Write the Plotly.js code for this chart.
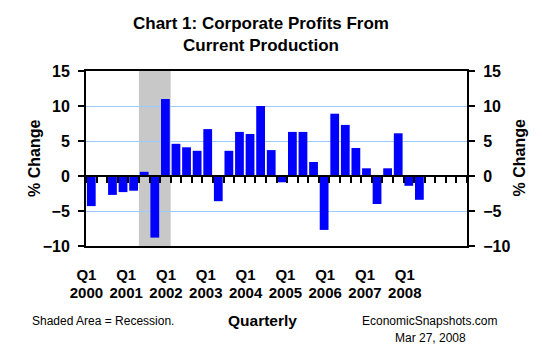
<!DOCTYPE html>
<html>
<head>
<meta charset="utf-8">
<script src="https://cdn.plot.ly/plotly-3.0.1.min.js"></script>
<style>html,body{margin:0;padding:0;background:#fff;}#chart{width:555px;height:360px;}</style>
</head>
<body>
<div id="chart"></div>
<script>
const quarters = [
  "2000Q1","2000Q2","2000Q3","2000Q4",
  "2001Q1","2001Q2","2001Q3","2001Q4",
  "2002Q1","2002Q2","2002Q3","2002Q4",
  "2003Q1","2003Q2","2003Q3","2003Q4",
  "2004Q1","2004Q2","2004Q3","2004Q4",
  "2005Q1","2005Q2","2005Q3","2005Q4",
  "2006Q1","2006Q2","2006Q3","2006Q4",
  "2007Q1","2007Q2","2007Q3","2007Q4",
  "2008Q1","2008Q2","2008Q3","2008Q4"
];
const pctChange = [
  -4.3, 0.0, -2.7, -2.3,
  -2.1, 0.6, -8.8, 11.0,
   4.6, 4.1, 3.6, 6.7,
  -3.6, 3.6, 6.3, 6.0,
  10.0, 3.7, -0.9, 6.3,
   6.3, 2.0, -7.7, 8.9,
   7.3, 4.0, 1.1, -4.0,
   1.1, 6.1, -1.4, -3.4,
  null, null, null, null
];
const recessionStart = "2001Q2";
const recessionEnd = "2001Q4";
const yearTickVals = [2000, 2001, 2002, 2003, 2004, 2005, 2006, 2007, 2008];
const quarterTickText = ["Q1","Q1","Q1","Q1","Q1","Q1","Q1","Q1","Q1"];
const yearTickText = ["2000","2001","2002","2003","2004","2005","2006","2007","2008"];
const yTickVals = [-10, -5, 0, 5, 10, 15];

const FONT = "Liberation Sans, Arial, sans-serif";
const recX0 = quarters.indexOf(recessionStart) - 0.5;
const recX1 = quarters.indexOf(recessionEnd) + 0.5;
const labelRange = [1999.99, 2009.563];

const bars = {
  type: "bar", x: quarters, y: pctChange,
  marker: {color: "#0000FF", line: {width: 0}},
  hoverinfo: "skip", xaxis: "x", yaxis: "y"
};
// invisible helper traces so the overlaid label axes are drawn
const helper = (xa, ya, xv) => ({
  type: "scatter", mode: "markers", x: [xv], y: [0],
  marker: {opacity: 0, size: 1}, hoverinfo: "skip", xaxis: xa, yaxis: ya, showlegend: false
});

const boldTick = {family: FONT, size: 15, color: "#000", weight: "bold"};
const boldY = {family: FONT, size: 16, color: "#000", weight: "bold"};

const layout = {
  width: 555, height: 360,
  margin: {l: 86, r: 88, t: 71, b: 114, pad: 0},
  paper_bgcolor: "#fff", plot_bgcolor: "#fff",
  showlegend: false,
  bargap: 0.17,
  title: {
    text: "Chart 1: Corporate Profits From<br>Current Production",
    font: {family: FONT, size: 17, color: "#000", weight: "bold"},
    x: 261 / 555, xref: "container", xanchor: "center",
    y: 1 - 29 / 360, yref: "container", yanchor: "middle"
  },
  xaxis: {
    type: "category", categoryorder: "array", categoryarray: quarters,
    range: [-0.5, quarters.length - 0.5],
    anchor: "free", position: 0.4,
    showline: true, linecolor: "#000", linewidth: 2,
    ticks: "outside", tickson: "boundaries", ticklen: 6, tickwidth: 2, tickcolor: "#000",
    tickmode: "linear", tick0: 0, dtick: 1,
    showticklabels: false, showgrid: false, zeroline: false, fixedrange: true
  },
  xaxis2: {
    overlaying: "x", anchor: "y", side: "bottom",
    type: "linear", range: labelRange,
    tickmode: "array", tickvals: yearTickVals, ticktext: quarterTickText,
    tickfont: boldTick, ticks: "", ticklabelstandoff: 14,
    showline: true, mirror: true, linecolor: "#000", linewidth: 2,
    showgrid: false, zeroline: false, fixedrange: true
  },
  xaxis3: {
    overlaying: "x", anchor: "y", side: "bottom",
    type: "linear", range: labelRange,
    tickmode: "array", tickvals: yearTickVals, ticktext: yearTickText,
    tickfont: boldTick, ticks: "", ticklabelstandoff: 36,
    showline: false, showgrid: false, zeroline: false, fixedrange: true
  },
  yaxis: {
    range: [-10, 15], domain: [0, 1],
    tickmode: "array", tickvals: yTickVals,
    showgrid: true, gridcolor: "#99CCFF", gridwidth: 1,
    showline: true, mirror: true, linecolor: "#000", linewidth: 2,
    ticks: "outside", ticklen: 6, tickwidth: 2, tickcolor: "#000",
    ticklabelstandoff: 5, tickfont: boldY,
    zeroline: false, fixedrange: true
  },
  yaxis2: {
    overlaying: "y", side: "right", anchor: "x",
    range: [-10, 15],
    tickmode: "array", tickvals: yTickVals,
    showgrid: false,
    showline: true, linecolor: "#000", linewidth: 2,
    ticks: "outside", ticklen: 6, tickwidth: 2, tickcolor: "#000",
    ticklabelstandoff: 5, tickfont: boldY,
    zeroline: false, fixedrange: true
  },
  shapes: [{
    type: "rect", xref: "x", yref: "paper",
    x0: recX0, x1: recX1, y0: 0, y1: 1,
    fillcolor: "#C8C8C8", line: {width: 0}, layer: "between"
  }],
  annotations: [
    {text: "% Change", xref: "paper", yref: "paper", textangle: -90,
     x: (34.5 - 86) / 381, y: 0.5, xanchor: "center", yanchor: "middle",
     showarrow: false, font: boldY},
    {text: "% Change", xref: "paper", yref: "paper", textangle: -90,
     x: (519 - 86) / 381, y: 0.5, xanchor: "center", yanchor: "middle",
     showarrow: false, font: boldY},
    {text: "Shaded Area = Recession.", xref: "paper", yref: "paper",
     x: (30 - 86) / 381, y: (246 - 320.7) / 175, xanchor: "left", yanchor: "middle",
     showarrow: false, font: {family: FONT, size: 12, color: "#000"}},
    {text: "Quarterly", xref: "paper", yref: "paper",
     x: (262 - 86) / 381, y: (246 - 320) / 175, xanchor: "center", yanchor: "middle",
     showarrow: false, font: {family: FONT, size: 15.5, color: "#000", weight: "bold"}},
    {text: "EconomicSnapshots.com", xref: "paper", yref: "paper",
     x: (429.5 - 86) / 381, y: (246 - 321) / 175, xanchor: "center", yanchor: "middle",
     showarrow: false, font: {family: FONT, size: 12, color: "#000"}},
    {text: "Mar 27, 2008", xref: "paper", yref: "paper",
     x: (430.5 - 86) / 381, y: (246 - 338) / 175, xanchor: "center", yanchor: "middle",
     showarrow: false, font: {family: FONT, size: 12, color: "#000"}}
  ]
};

Plotly.newPlot("chart", [
  bars,
  helper("x2", "y", 2005),
  helper("x3", "y", 2005),
  helper("x", "y2", quarters[0])
], layout, {staticPlot: true, displayModeBar: false});
</script>
</body>
</html>
